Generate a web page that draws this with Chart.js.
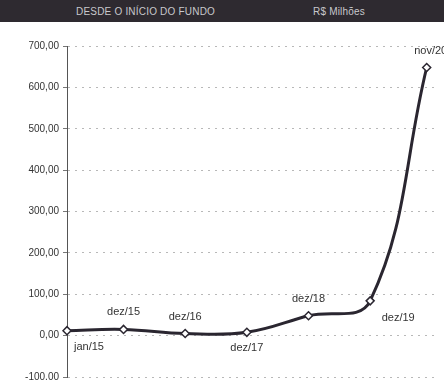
<!DOCTYPE html>
<html>
<head>
<meta charset="utf-8">
<script src="https://cdn.jsdelivr.net/npm/chart.js@4"></script>
<style>
    body { margin: 0; background: #fff; width: 444px; height: 380px; overflow: hidden; position: relative; font-family: "Liberation Sans", Arial, sans-serif; }
    .header { position: absolute; left: 0; top: 0; width: 444px; height: 22px; background: #2e2a30; color: #c8c8cc; font-size: 10px; z-index: 2; }
    .header span { position: absolute; top: 6px; letter-spacing: 0.2px; }
    #wrap { position: absolute; left: 0; top: 22px; width: 444px; height: 365px; }
</style>
</head>
<body>
<div class="header">
    <span style="left:76px">DESDE O INÍCIO DO FUNDO</span>
    <span style="left:313px">R$ Milhões</span>
</div>
<div id="wrap"><canvas id="chart"></canvas></div>
<script>
// Point labels and months since jan/15
const labels = ['jan/15', 'dez/15', 'dez/16', 'dez/17', 'dez/18', 'dez/19', 'nov/20'];
const months = [0, 11, 23, 35, 47, 59, 70];
const values = [12, 15, 5, 8, 48, 84, 648];
const labelSide = ['below', 'above', 'above', 'below', 'above', 'belowRight', 'above'];
const yTicks = [-100, 0, 100, 200, 300, 400, 500, 600, 700];

function fmt(v) {
    return v.toFixed(2).replace('.', ',');
}

// Draw the date labels next to each point
const pointLabels = {
    id: 'pointLabels',
    afterDatasetsDraw(chart) {
        const ctx = chart.ctx;
        const meta = chart.getDatasetMeta(0);
        ctx.save();
        ctx.font = '11px "Liberation Sans", Arial, sans-serif';
        ctx.fillStyle = '#333';
        ctx.textAlign = 'center';
        ctx.textBaseline = 'middle';
        meta.data.forEach((pt, i) => {
            let x = pt.x, y = pt.y;
            if (labelSide[i] === 'above') y -= 17;
            else if (labelSide[i] === 'below') y += 16;
            else { x += 28; y += 17; }
            if (i === 0) x += 22;
            if (i === 6) x += 4;
            ctx.fillText(labels[i], x, y);
        });
        ctx.restore();
    }
};

new Chart(document.getElementById('chart'), {
    type: 'line',
    data: {
        datasets: [{
            data: months.map((m, i) => ({ x: m, y: values[i] })),
            borderColor: '#2a2630',
            borderWidth: 3,
            tension: 0.4,
            pointStyle: 'rectRot',
            pointRadius: 4,
            pointBackgroundColor: '#fff',
            pointBorderColor: '#2a2630',
            pointBorderWidth: 1.5,
            clip: false
        }]
    },
    options: {
        responsive: true,
        maintainAspectRatio: false,
        animation: false,
        layout: { padding: { top: 24, right: 0, bottom: 0, left: 0 } },
        plugins: { legend: { display: false }, tooltip: { enabled: false } },
        scales: {
            x: {
                type: 'linear',
                min: 0,
                max: 72.3,
                display: false
            },
            y: {
                min: -100,
                max: 700,
                afterBuildTicks: axis => { axis.ticks = yTicks.map(v => ({ value: v })); },
                afterFit: axis => { axis.width = 67; },
                border: { display: true, color: '#555', width: 1, dash: [2, 5] },
                grid: {
                    color: '#b8b8b8',
                    lineWidth: 1,
                    tickLength: 4,
                    tickColor: '#777',
                    tickBorderDash: [],
                    drawTicks: true
                },
                ticks: {
                    color: '#333',
                    font: { size: 10, family: '"Liberation Sans", Arial, sans-serif' },
                    padding: 4,
                    callback: v => fmt(v)
                }
            }
        }
    },
    plugins: [pointLabels]
});
</script>
</body>
</html>
